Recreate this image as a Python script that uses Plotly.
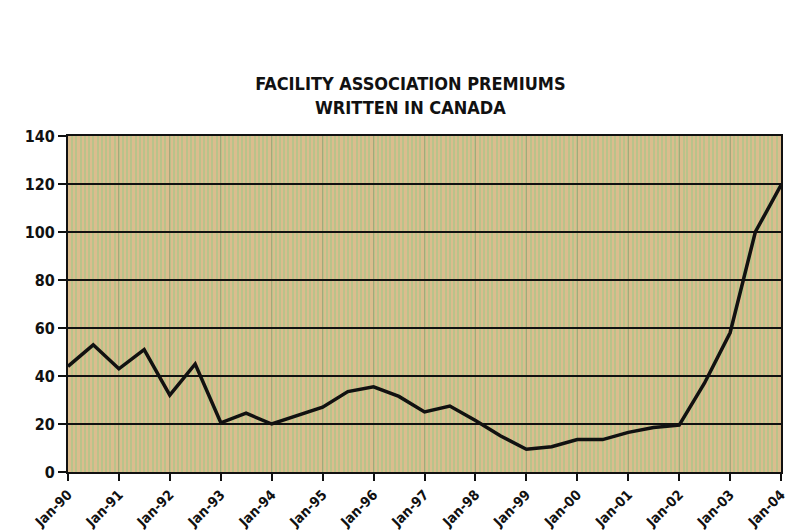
import plotly.graph_objects as go

dates = [
    "1990-01-01", "1990-07-01", "1991-01-01", "1991-07-01", "1992-01-01", "1992-07-01",
    "1993-01-01", "1993-07-01", "1994-01-01", "1994-07-01", "1995-01-01", "1995-07-01",
    "1996-01-01", "1996-07-01", "1997-01-01", "1997-07-01", "1998-01-01", "1998-07-01",
    "1999-01-01", "1999-07-01", "2000-01-01", "2000-07-01", "2001-01-01", "2001-07-01",
    "2002-01-01", "2002-07-01", "2003-01-01", "2003-07-01", "2004-01-01",
]
premiums = [
    44, 53, 43, 51, 32, 45,
    20.5, 24.5, 20, 23.5, 27, 33.5,
    35.5, 31.5, 25, 27.5, 21.5, 15,
    9.5, 10.5, 13.5, 13.5, 16.5, 18.5,
    19.5, 37, 58, 100, 119.5,
]
y_ticks = [0, 20, 40, 60, 80, 100, 120, 140]

title_text = "FACILITY ASSOCIATION PREMIUMS<br>WRITTEN IN CANADA"

fig = go.Figure()
fig.add_trace(go.Scatter(
    x=dates, y=premiums, mode="lines",
    line=dict(color="#111111", width=3.5),
    showlegend=False,
))

font_family = "DejaVu Sans Condensed, Liberation Sans Narrow, sans-serif"

fig.update_layout(
    width=800, height=532,
    margin=dict(l=68, r=19, t=136, b=60, autoexpand=False),
    paper_bgcolor="white",
    plot_bgcolor="#dbbd8e",
    title=dict(
        text=title_text,
        x=0.513, xanchor="center",
        y=0.83, yanchor="middle",
        font=dict(family=font_family, size=18, color="#111111", weight="bold"),
    ),
    font=dict(family=font_family, color="#111111"),
)

fig.update_xaxes(
    type="date",
    automargin=False,
    range=["1990-01-01", "2004-01-01"],
    tickvals=dates[::2],
    tickformat="%b-%y",
    tickangle=-45,
    ticks="outside", ticklen=7, tickwidth=2, tickcolor="#111111",
    tickfont=dict(size=14, family=font_family, color="#111111", weight="bold"),
    showgrid=True, gridcolor="#a3a97a", gridwidth=1,
    minor=dict(dtick="M1", showgrid=True, gridcolor="#b9c38a", gridwidth=2),
    showline=True, linecolor="#111111", linewidth=2, mirror=True,
    zeroline=False,
)
fig.update_yaxes(
    automargin=False,
    range=[0, 140],
    tickvals=y_ticks,
    ticks="outside", ticklen=8, tickwidth=2, tickcolor="#111111",
    tickfont=dict(size=16, family=font_family, color="#111111", weight="bold"),
    showgrid=True, gridcolor="#111111", gridwidth=2,
    showline=True, linecolor="#111111", linewidth=2, mirror=True,
    zeroline=False,
)

fig.write_html("out.html")
